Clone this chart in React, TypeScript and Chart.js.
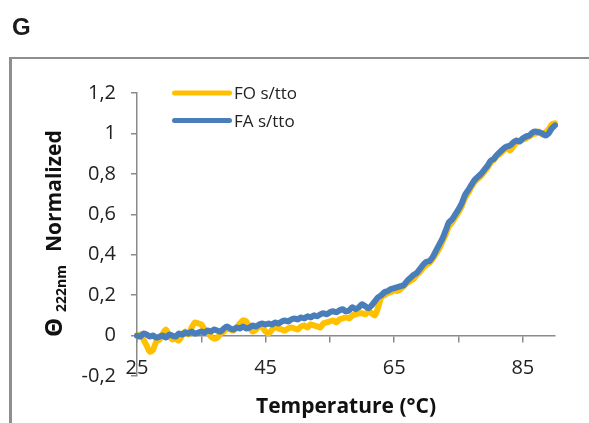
import React, { useEffect, useRef } from "react";
import { Chart, registerables } from "chart.js";

Chart.register(...registerables);

// Temperature (°C)
const temps: number[] = [
  25, 25.5, 26, 26.5, 27, 27.5, 28, 28.5, 29, 29.5,
  30, 30.5, 31, 31.5, 32, 32.5, 33, 33.5, 34, 34.5,
  35, 35.5, 36, 36.5, 37, 37.5, 38, 38.5, 39, 39.5,
  40, 40.5, 41, 41.5, 42, 42.5, 43, 43.5, 44, 44.5,
  45, 45.5, 46, 46.5, 47, 47.5, 48, 48.5, 49, 49.5,
  50, 50.5, 51, 51.5, 52, 52.5, 53, 53.5, 54, 54.5,
  55, 55.5, 56, 56.5, 57, 57.5, 58, 58.5, 59, 59.5,
  60, 60.5, 61, 61.5, 62, 62.5, 63, 63.5, 64, 64.5,
  65, 65.5, 66, 66.5, 67, 67.5, 68, 68.5, 69, 69.5,
  70, 70.5, 71, 71.5, 72, 72.5, 73, 73.5, 74, 74.5,
  75, 75.5, 76, 76.5, 77, 77.5, 78, 78.5, 79, 79.5,
  80, 80.5, 81, 81.5, 82, 82.5, 83, 83.5, 84, 84.5,
  85, 85.5, 86, 86.5, 87, 87.5, 88, 88.5, 89, 89.5,
  90,
];

// FO s/tto (yellow)
const foValues: number[] = [
  0.0, 0.005, -0.02, -0.05, -0.08, -0.07, -0.03, -0.02, 0.01, 0.03,
  0.0, -0.02, -0.015, -0.025, 0.0, 0.02, 0.005, 0.04, 0.065, 0.06,
  0.055, 0.03, 0.015, -0.005, -0.015, -0.01, 0.01, 0.02, 0.035, 0.03,
  0.025, 0.04, 0.06, 0.075, 0.07, 0.04, 0.02, 0.03, 0.045, 0.04,
  0.02, 0.01, 0.03, 0.045, 0.035, 0.03, 0.025, 0.035, 0.04, 0.035,
  0.03, 0.045, 0.05, 0.04, 0.055, 0.05, 0.045, 0.04, 0.06, 0.065,
  0.07, 0.075, 0.065, 0.08, 0.085, 0.09, 0.085, 0.1, 0.105, 0.11,
  0.11, 0.105, 0.12, 0.11, 0.1, 0.14, 0.19, 0.2, 0.21, 0.215,
  0.225, 0.22, 0.23, 0.245, 0.26, 0.27, 0.28, 0.3, 0.315, 0.335,
  0.35, 0.36, 0.38, 0.405, 0.43, 0.465, 0.5, 0.54, 0.56, 0.585,
  0.61, 0.64, 0.68, 0.705, 0.735, 0.76, 0.775, 0.79, 0.81, 0.83,
  0.855, 0.87, 0.89, 0.9, 0.915, 0.93, 0.915, 0.935, 0.955, 0.965,
  0.97, 0.975, 0.985, 0.995, 1.0, 1.01, 0.995, 1.005, 1.02, 1.045,
  1.05,
];

// FA s/tto (blue)
const faValues: number[] = [
  0.0, -0.005, 0.01, 0.005, -0.005, 0.0, -0.01, -0.005, 0.0, -0.01,
  0.005, 0.0, -0.005, 0.01, 0.005, 0.015, 0.01, 0.02, 0.01, 0.015,
  0.02, 0.015, 0.025, 0.02, 0.03, 0.025, 0.02, 0.035, 0.045, 0.035,
  0.03, 0.04, 0.035, 0.045, 0.035, 0.04, 0.05, 0.045, 0.055, 0.06,
  0.055, 0.06, 0.055, 0.065, 0.06, 0.07, 0.075, 0.07, 0.08, 0.085,
  0.08, 0.09, 0.085, 0.095, 0.09, 0.1, 0.095, 0.105, 0.11, 0.105,
  0.115, 0.12, 0.115, 0.125, 0.13, 0.12, 0.125, 0.14, 0.13, 0.14,
  0.155, 0.145, 0.135, 0.15, 0.17, 0.19, 0.2, 0.215, 0.22, 0.23,
  0.235, 0.24, 0.245, 0.25, 0.27, 0.285, 0.3, 0.31, 0.33, 0.35,
  0.365, 0.37, 0.39, 0.42, 0.45, 0.48, 0.52, 0.56, 0.575, 0.6,
  0.625, 0.655, 0.695, 0.72, 0.745, 0.77, 0.785, 0.8, 0.82, 0.84,
  0.865, 0.875, 0.895, 0.91, 0.925, 0.935, 0.94, 0.955, 0.965, 0.96,
  0.975, 0.985, 0.99, 1.005, 1.01, 1.005, 1.0, 0.99, 1.0, 1.025,
  1.04,
];

const seriesLabels = ["FO s/tto", "FA s/tto"];
const seriesColors = ["#FFC000", "#4A7EBB"];

const xTickValues = [25, 35, 45, 55, 65, 75, 85];
const xLabeledValues = [25, 45, 65, 85];

const FONT = "'Open Sans', sans-serif";
const AXIS_COLOR = "#8a8a8a";
const TEXT_COLOR = "#222222";

const decorPlugin = {
  id: "decor",
  beforeDraw(chart: any) {
    const ctx = chart.ctx;
    ctx.save();
    // outer frame
    ctx.fillStyle = "#8e8e8e";
    ctx.fillRect(9, 57, 3, 366);
    ctx.fillRect(9, 57, 580, 2);
    // panel letter
    ctx.fillStyle = "#1a1a1a";
    ctx.font = "bold 24px 'Liberation Sans', Arial, sans-serif";
    ctx.textAlign = "left";
    ctx.textBaseline = "alphabetic";
    ctx.fillText("G", 12, 35);
    ctx.restore();
  },
  afterDraw(chart: any) {
    const ctx = chart.ctx;
    ctx.save();
    ctx.fillStyle = "#111";
    // x title
    ctx.font = `bold 21px ${FONT}`;
    ctx.textAlign = "center";
    ctx.textBaseline = "middle";
    ctx.fillText("Temperature (°C)", 346, 407);
    // y title (rotated)
    ctx.save();
    ctx.rotate(-Math.PI / 2);
    ctx.textAlign = "left";
    ctx.textBaseline = "alphabetic";
    ctx.font = `bold 24px ${FONT}`;
    ctx.fillText("Θ", -337, 62);
    ctx.font = `bold 14px ${FONT}`;
    ctx.fillText("222nm", -312, 66);
    ctx.font = `bold 21px ${FONT}`;
    ctx.fillText("Normalized", -252, 61);
    ctx.restore();
    // legend
    const rows = [93, 120.5];
    chart.data.datasets.forEach((ds: any, i: number) => {
      const y = rows[i];
      ctx.strokeStyle = ds.borderColor;
      ctx.lineWidth = 5;
      ctx.lineCap = "round";
      ctx.beginPath();
      ctx.moveTo(174.5, y);
      ctx.lineTo(229.5, y);
      ctx.stroke();
      ctx.fillStyle = TEXT_COLOR;
      ctx.font = `17px ${FONT}`;
      ctx.textAlign = "left";
      ctx.textBaseline = "middle";
      ctx.fillText(ds.label, 234, y + 1.5);
    });
    ctx.restore();
  },
};

export default function App() {
  const canvasRef = useRef<HTMLCanvasElement | null>(null);

  useEffect(() => {
    if (!canvasRef.current) return;
    const makeData = (vals: number[]) => temps.map((t, i) => ({ x: t, y: vals[i] }));
    const chart = new Chart(canvasRef.current, {
      type: "line",
      data: {
        datasets: [
          {
            label: seriesLabels[0],
            data: makeData(foValues),
            borderColor: seriesColors[0],
            backgroundColor: seriesColors[0],
            borderWidth: 6,
            pointRadius: 0,
            tension: 0.25,
            borderCapStyle: "round",
            borderJoinStyle: "round",
            order: 2,
            clip: false,
          },
          {
            label: seriesLabels[1],
            data: makeData(faValues),
            borderColor: seriesColors[1],
            backgroundColor: seriesColors[1],
            borderWidth: 6,
            pointRadius: 0,
            tension: 0.25,
            borderCapStyle: "round",
            borderJoinStyle: "round",
            order: 1,
            clip: false,
          },
        ],
      },
      options: {
        responsive: false,
        animation: false,
        layout: { padding: { left: 77, right: 34, top: 93, bottom: 47 } },
        plugins: {
          legend: { display: false },
          tooltip: { enabled: false },
        },
        scales: {
          x: {
            type: "linear",
            min: 25,
            max: 90,
            position: { y: 0 } as any,
            afterBuildTicks: (scale: any) => {
              scale.ticks = xTickValues.map((v) => ({ value: v }));
            },
            ticks: {
              autoSkip: false,
              maxRotation: 0,
              padding: 15,
              color: TEXT_COLOR,
              font: { family: FONT, size: 20 },
              callback: (v: any) => (xLabeledValues.includes(Number(v)) ? String(v) : ""),
            },
            grid: {
              drawOnChartArea: false,
              drawTicks: true,
              tickLength: 6,
              color: AXIS_COLOR,
              lineWidth: 1.5,
            },
            border: { display: true, color: AXIS_COLOR, width: 1.5 },
          },
          y: {
            type: "linear",
            min: -0.2,
            max: 1.2,
            afterFit: (scale: any) => {
              scale.width = 60;
            },
            ticks: {
              stepSize: 0.2,
              padding: 15,
              color: TEXT_COLOR,
              font: { family: FONT, size: 20 },
              callback: (v: any) => String(Math.round(Number(v) * 10) / 10).replace(".", ","),
            },
            grid: {
              drawOnChartArea: false,
              drawTicks: true,
              tickLength: 6,
              color: AXIS_COLOR,
              lineWidth: 1.5,
            },
            border: { display: true, color: AXIS_COLOR, width: 1.5 },
          },
        },
      },
      plugins: [decorPlugin],
    });
    return () => chart.destroy();
  }, []);

  return (
    <div style={{ position: "absolute", left: 0, top: 0, width: 589, height: 423, background: "#fff" }}>
      <canvas ref={canvasRef} width={589} height={423} style={{ display: "block" }} />
    </div>
  );
}
